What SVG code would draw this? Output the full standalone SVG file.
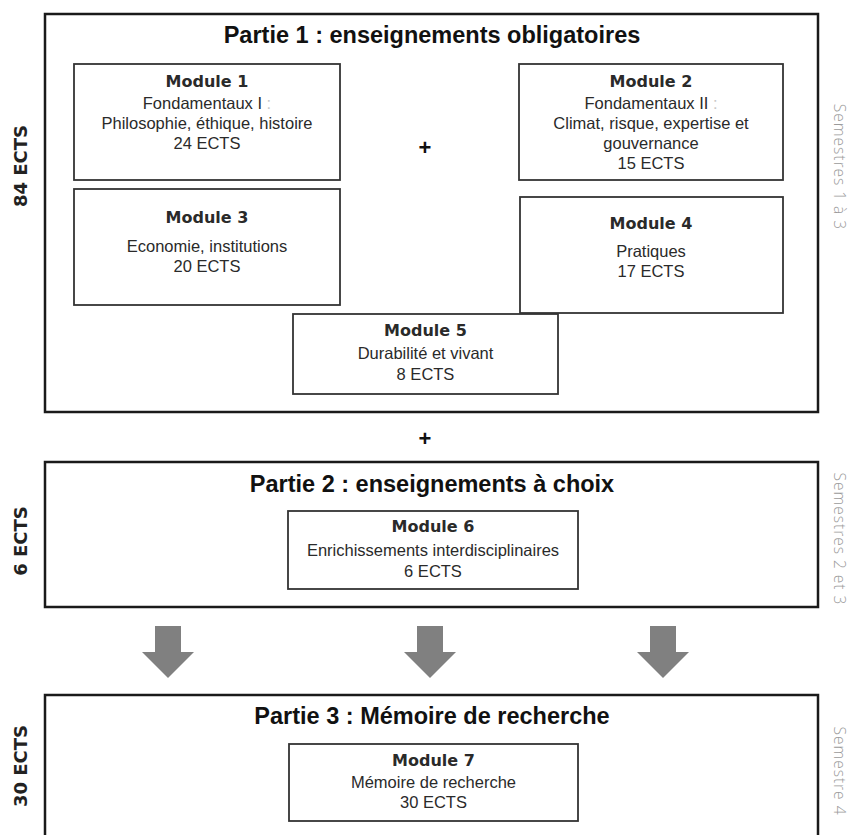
<svg xmlns="http://www.w3.org/2000/svg" width="852" height="835" viewBox="0 0 852 835">
<style>
.part{fill:#fff;stroke:#1a1a1a;stroke-width:2.5}
.mod{fill:#fff;stroke:#333;stroke-width:1.8}
.ptitle{font-family:"Liberation Sans",Arial,sans-serif;font-weight:bold;font-size:23.5px;fill:#111;text-anchor:middle}
.mtitle{font-family:"DejaVu Sans",Verdana,sans-serif;font-weight:bold;font-size:16px;fill:#2a2a2a;text-anchor:middle}
.body{font-family:"Liberation Sans",Arial,sans-serif;font-size:16.5px;fill:#2a2a2a;text-anchor:middle}
.faint{fill:#c8c8c8}
.ects{font-family:"DejaVu Sans",Verdana,sans-serif;font-weight:bold;font-size:18px;fill:#222;text-anchor:middle}
.sem{font-family:"Open Sans","DejaVu Sans",sans-serif;font-weight:300;font-size:15.5px;fill:#9a9a9a;text-anchor:middle;letter-spacing:1px}
.plus{font-family:"Liberation Sans",Arial,sans-serif;font-weight:bold;font-size:22px;fill:#111;text-anchor:middle}
.arrow{fill:#808080}
</style>
<rect width="852" height="835" fill="#fff"/>

<g id="partie1">
<rect class="part" x="45" y="14" width="773" height="398"/>
<text class="ptitle" x="432" y="43">Partie 1 : enseignements obligatoires</text>
</g>
<g id="module1">
<rect class="mod" x="74" y="64" width="266" height="116"/>
<text class="mtitle" x="207" y="87">Module 1</text>
<text class="body" x="207" y="109">Fondamentaux I <tspan class="faint">:</tspan></text>
<text class="body" x="207" y="129">Philosophie, éthique, histoire</text>
<text class="body" x="207" y="149">24 ECTS</text>
</g>
<g id="module2">
<rect class="mod" x="519" y="64" width="264" height="116"/>
<text class="mtitle" x="651" y="87">Module 2</text>
<text class="body" x="651" y="109">Fondamentaux II <tspan class="faint">:</tspan></text>
<text class="body" x="651" y="129">Climat, risque, expertise et</text>
<text class="body" x="651" y="149">gouvernance</text>
<text class="body" x="651" y="169">15 ECTS</text>
</g>
<g id="module3">
<rect class="mod" x="74" y="189" width="266" height="116"/>
<text class="mtitle" x="207" y="223">Module 3</text>
<text class="body" x="207" y="252">Economie, institutions</text>
<text class="body" x="207" y="272">20 ECTS</text>
</g>
<g id="module4">
<rect class="mod" x="520" y="197" width="263" height="116"/>
<text class="mtitle" x="651" y="229">Module 4</text>
<text class="body" x="651" y="257">Pratiques</text>
<text class="body" x="651" y="277">17 ECTS</text>
</g>
<g id="module5">
<rect class="mod" x="293" y="314" width="265" height="80"/>
<text class="mtitle" x="425.5" y="336">Module 5</text>
<text class="body" x="425.5" y="359">Durabilité et vivant</text>
<text class="body" x="425.5" y="380">8 ECTS</text>
</g>
<g id="plus1"><text class="plus" x="425" y="155">+</text></g>
<g id="plus2"><text class="plus" x="425" y="446">+</text></g>

<g id="partie2">
<rect class="part" x="45" y="462" width="773" height="145"/>
<text class="ptitle" x="432" y="491.5">Partie 2 : enseignements à choix</text>
</g>
<g id="module6">
<rect class="mod" x="288" y="511" width="290" height="78"/>
<text class="mtitle" x="433" y="532">Module 6</text>
<text class="body" x="433" y="555.5">Enrichissements interdisciplinaires</text>
<text class="body" x="433" y="576.5">6 ECTS</text>
</g>

<g id="connectors">
<path class="arrow" d="M155,626 H181 V652 H194 L168,678 L142,652 H155 Z"/>
<path class="arrow" d="M417,626 H443 V652 H456 L430,678 L404,652 H417 Z"/>
<path class="arrow" d="M650,626 H676 V652 H689 L663,678 L637,652 H650 Z"/>
</g>

<g id="partie3">
<rect class="part" x="45" y="695" width="773" height="160"/>
<text class="ptitle" x="432" y="723.5">Partie 3 : Mémoire de recherche</text>
</g>
<g id="module7">
<rect class="mod" x="289" y="744" width="289" height="77"/>
<text class="mtitle" x="433.5" y="766">Module 7</text>
<text class="body" x="433.5" y="788">Mémoire de recherche</text>
<text class="body" x="433.5" y="808">30 ECTS</text>
</g>

<g id="labels-left">
<text class="ects" transform="translate(27,166) rotate(-90)">84 ECTS</text>
<text class="ects" transform="translate(27,541) rotate(-90)">6 ECTS</text>
<text class="ects" transform="translate(27,766) rotate(-90)">30 ECTS</text>
</g>
<g id="labels-right">
<text class="sem" transform="translate(834,167) rotate(90)">Semestres 1 à 3</text>
<text class="sem" transform="translate(834,539) rotate(90)">Semestres 2 et 3</text>
<text class="sem" transform="translate(834,771) rotate(90)">Semestre 4</text>
</g>
</svg>
